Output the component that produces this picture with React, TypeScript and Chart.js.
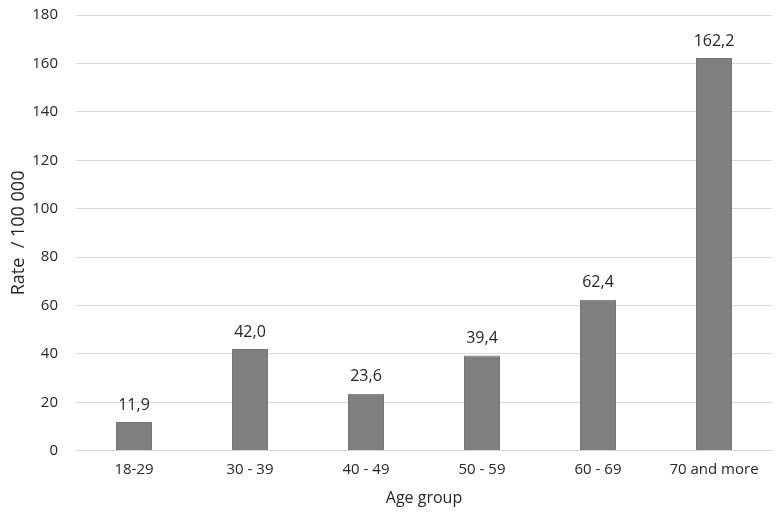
import React, { useEffect, useRef } from "react";
import { Chart, registerables } from "chart.js";

Chart.register(...registerables);

const categories = ["18-29", "30 - 39", "40 - 49", "50 - 59", "60 - 69", "70 and more"];
const rates = [11.9, 42.0, 23.6, 39.4, 62.4, 162.2];
const yTitle = "Rate  / 100 000";
const xTitle = "Age group";

const FONT = "'Open Sans', 'Noto Sans', sans-serif";
const TEXT = "#262626";

const labelPlugin = {
  id: "barLabels",
  afterDatasetsDraw(chart: any) {
    const ctx = chart.ctx;
    const meta = chart.getDatasetMeta(0);
    ctx.save();
    ctx.font = `16px ${FONT}`;
    ctx.fillStyle = TEXT;
    ctx.textAlign = "center";
    ctx.textBaseline = "middle";
    meta.data.forEach((el: any, i: number) => {
      const txt = rates[i].toFixed(1).replace(".", ",");
      ctx.fillText(txt, el.x, el.y - 17);
    });
    ctx.restore();
  },
};

export default function App() {
  const ref = useRef<HTMLCanvasElement>(null);
  useEffect(() => {
    document.body.style.margin = "0";
    const chart = new Chart(ref.current!, {
      type: "bar",
      data: {
        labels: categories,
        datasets: [
          {
            data: rates,
            backgroundColor: "#7f7f7f",
            borderColor: "#737373",
            borderWidth: 1,
            categoryPercentage: 1,
            barPercentage: 0.31,
          },
        ],
      },
      options: {
        animation: false,
        responsive: false,
        maintainAspectRatio: false,
        layout: { padding: { top: 0, right: 5, left: 0, bottom: 0 } },
        plugins: { legend: { display: false }, tooltip: { enabled: false } },
        scales: {
          x: {
            grid: { display: false, drawTicks: false },
            border: { display: true, color: "#d9d9d9", width: 1 },
            ticks: { color: TEXT, font: { family: FONT, size: 15 }, padding: 10, maxRotation: 0 },
            title: { display: true, text: xTitle, color: TEXT, font: { family: FONT, size: 16 }, padding: { top: 0, bottom: 16 } },
          },
          y: {
            min: 0,
            max: 180,
            afterFit: (scale: any) => {
              scale.width = 76;
              scale.paddingTop = 15;
            },
            ticks: { stepSize: 20, color: TEXT, font: { family: FONT, size: 15 }, padding: 18 },
            grid: { color: "#d9d9d9", drawTicks: false },
            border: { display: false },
            title: { display: true, text: yTitle, color: TEXT, font: { family: FONT, size: 18 }, padding: { top: 8, bottom: 8 } },
          },
        },
      },
      plugins: [labelPlugin],
    });
    return () => chart.destroy();
  }, []);
  return (
    <div style={{ width: 777, height: 524, background: "#fff" }}>
      <canvas ref={ref} width={777} height={524} />
    </div>
  );
}
